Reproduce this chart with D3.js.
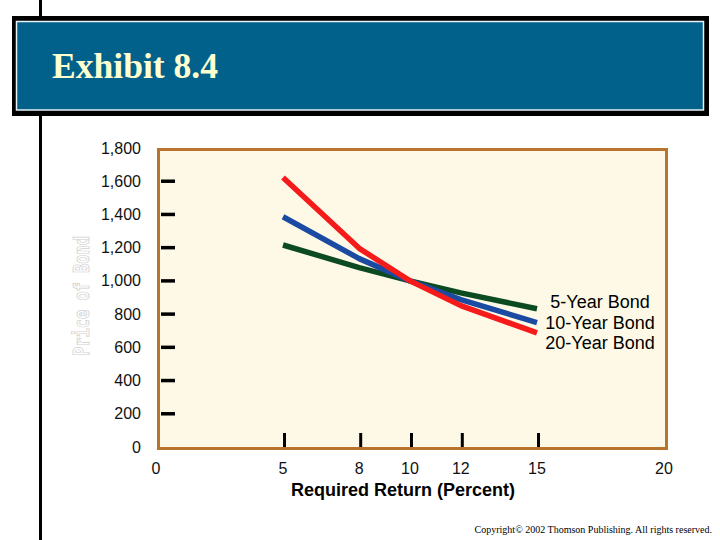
<!DOCTYPE html>
<html><head><meta charset="utf-8">
<script src="https://cdn.jsdelivr.net/npm/d3@7"></script>
<style>html,body{margin:0;padding:0;background:#fff;}svg{display:block;}</style>
</head><body>
<svg id="c" width="720" height="540"></svg>
<script>
const rates = [5, 8, 10, 12, 15];
const bond5 = [1216, 1080, 1000, 928, 832];
const bond10 = [1386, 1134, 1000, 887, 749];
const bond20 = [1623, 1196, 1000, 851, 687];
const seriesNames = ["5-Year Bond", "10-Year Bond", "20-Year Bond"];
const xTicks = [0, 5, 8, 10, 12, 15, 20];
const yTicks = [0, 200, 400, 600, 800, 1000, 1200, 1400, 1600, 1800];
const title = "Exhibit 8.4";
const xTitle = "Required Return (Percent)";
const yTitle = "Price of Bond";
const copyright = "Copyright\u00A9 2002  Thomson Publishing. All rights reserved.";

const svg = d3.select("#c");
const x = d3.scaleLinear().domain([0, 20]).range([156, 664]);
const y = d3.scaleLinear().domain([0, 1800]).range([447, 148]);

// left vertical rule
svg.append("line").attr("x1", 40.5).attr("x2", 40.5).attr("y1", 0).attr("y2", 540)
  .attr("stroke", "#000").attr("stroke-width", 3);

// banner
svg.append("rect").attr("x", 12).attr("y", 16).attr("width", 697).attr("height", 100).attr("fill", "#000");
svg.append("rect").attr("x", 16.5).attr("y", 21.5).attr("width", 687).attr("height", 88.5)
  .attr("fill", "#02618b").attr("stroke", "#e8f4f8").attr("stroke-width", 1.5);
svg.append("text").attr("x", 52).attr("y", 78).text(title)
  .attr("font-family", "'Liberation Serif','Times New Roman',serif").attr("font-weight", "bold")
  .attr("font-size", 36).attr("fill", "#ffffd0").attr("textLength", 166).attr("lengthAdjust", "spacingAndGlyphs");

// plot area
svg.append("rect").attr("x", 158.5).attr("y", y(1800) + 1.5)
  .attr("width", 508).attr("height", y(0) - y(1800))
  .attr("fill", "#fdf9e6").attr("stroke", "#b8742c").attr("stroke-width", 3);

// y ticks (inside)
const yInner = yTicks.filter(v => v > 0 && v < 1800);
svg.selectAll(".yt").data(yInner).enter().append("line")
  .attr("x1", 161).attr("x2", 175).attr("y1", d => y(d)).attr("y2", d => y(d))
  .attr("stroke", "#000").attr("stroke-width", 3.5);
svg.selectAll(".yl").data(yTicks).enter().append("text")
  .attr("x", 141).attr("y", d => y(d) + 5.5).attr("text-anchor", "end")
  .attr("font-family", "'Liberation Sans',Arial,sans-serif").attr("font-size", 16)
  .attr("fill", "#111").text(d => d3.format(",")(d));

// x ticks
const xInner = xTicks.filter(v => v > 0 && v < 20);
svg.selectAll(".xt").data(xInner).enter().append("line")
  .attr("x1", d => x(d) + 1.5).attr("x2", d => x(d) + 1.5).attr("y1", 433).attr("y2", 447)
  .attr("stroke", "#000").attr("stroke-width", 3);
svg.selectAll(".xl").data(xTicks).enter().append("text")
  .attr("x", d => x(d)).attr("y", 474).attr("text-anchor", "middle")
  .attr("font-family", "'Liberation Sans',Arial,sans-serif").attr("font-size", 16)
  .attr("fill", "#111").text(d => d);

svg.append("text").attr("x", 403).attr("y", 496).attr("text-anchor", "middle")
  .attr("font-family", "'Liberation Sans',Arial,sans-serif").attr("font-weight", "bold")
  .attr("font-size", 18).text(xTitle);

// y title (hollow, faint)
svg.append("text").attr("transform", "translate(89,296) rotate(-90)").attr("text-anchor", "middle")
  .attr("font-family", "'DejaVu Sans Mono',monospace").attr("font-weight", "bold")
  .attr("font-size", 21).attr("fill", "#fff").attr("stroke", "#cfcfcf").attr("stroke-width", 0.8)
  .attr("textLength", 120).attr("lengthAdjust", "spacingAndGlyphs").text(yTitle);

// lines
const line = d3.line().x((d, i) => x(rates[i])).y(d => y(d));
const series = [
  {vals: bond5, color: "#0c4a22"},
  {vals: bond10, color: "#1a4aa2"},
  {vals: bond20, color: "#f51b1b"}
];
svg.selectAll(".ln").data(series).enter().append("path")
  .attr("d", d => line(d.vals)).attr("fill", "none")
  .attr("stroke", d => d.color).attr("stroke-width", 5.5).attr("stroke-linejoin", "round");

// legend labels
svg.selectAll(".lg").data(seriesNames).enter().append("text")
  .attr("x", 600).attr("y", (d, i) => 308 + i * 20.5).attr("text-anchor", "middle")
  .attr("font-family", "'Liberation Sans',Arial,sans-serif").attr("font-size", 18)
  .attr("fill", "#000").text(d => d);

// copyright
svg.append("text").attr("x", 712).attr("y", 533).attr("text-anchor", "end")
  .attr("font-family", "'Liberation Serif','Times New Roman',serif").attr("font-size", 10)
  .attr("fill", "#000").text(copyright);
</script>
</body></html>
